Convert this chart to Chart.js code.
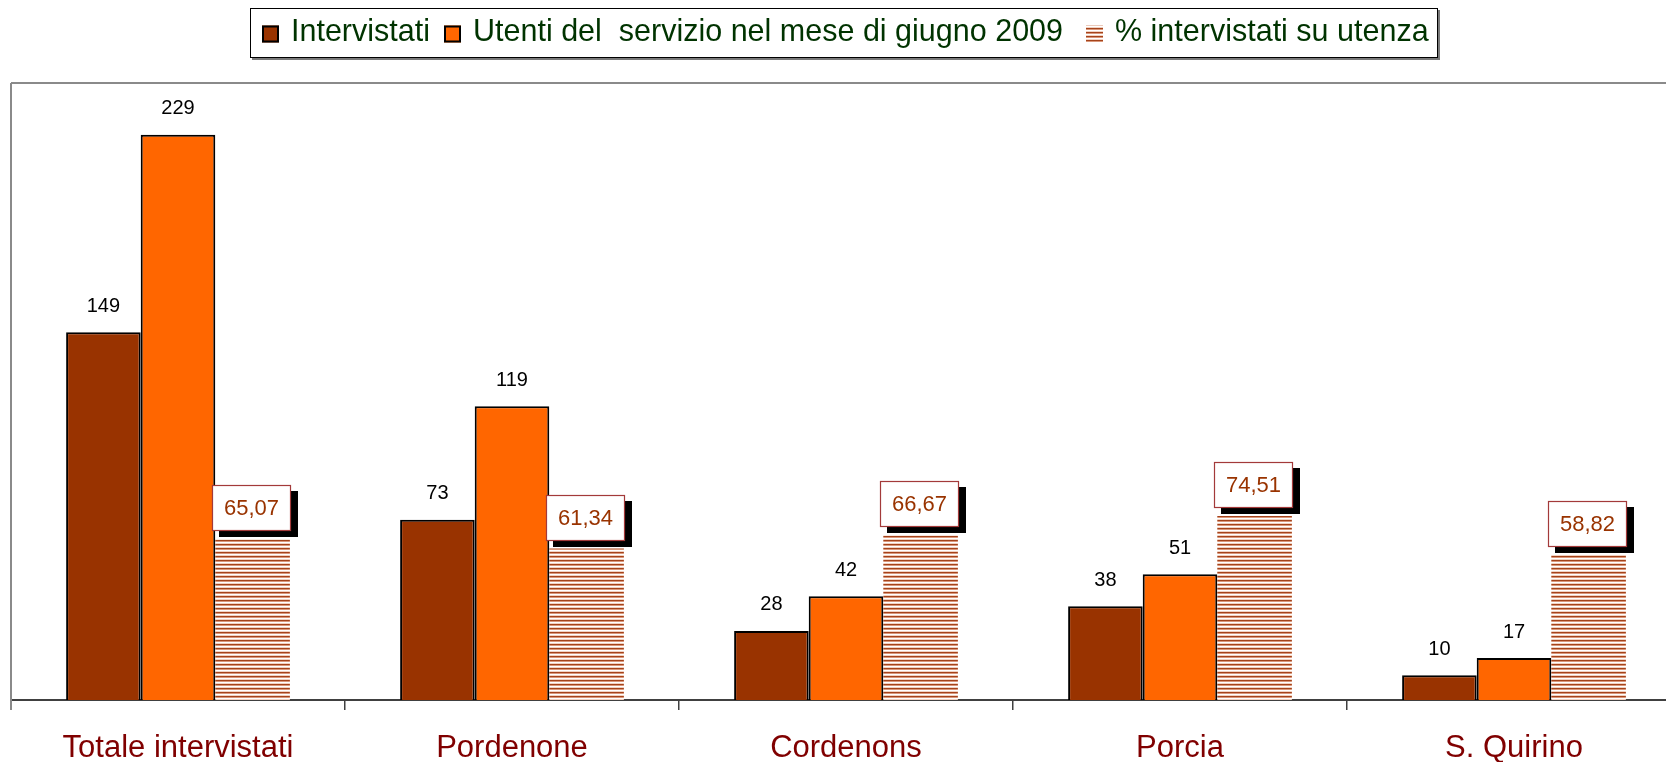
<!DOCTYPE html>
<html>
<head>
<meta charset="utf-8">
<script src="https://cdn.jsdelivr.net/npm/chart.js@4/dist/chart.umd.min.js"></script>
<style>
html,body{margin:0;padding:0;background:#fff;overflow:hidden;width:1666px;height:762px;}
canvas{display:block;}
</style>
</head>
<body>
<canvas id="c" width="1700" height="762"></canvas>
<script>
const categories = ['Totale intervistati', 'Pordenone', 'Cordenons', 'Porcia', 'S. Quirino'];
const intervistati = [149, 73, 28, 38, 10];
const utenti = [229, 119, 42, 51, 17];
const percentuale = [65.07, 61.34, 66.67, 74.51, 58.82];
const seriesNames = ['Intervistati', 'Utenti del  servizio nel mese di giugno 2009', '% intervistati su utenza'];

const FONT = '"Liberation Sans", Arial, sans-serif';

function makePattern() {
  const p = document.createElement('canvas');
  p.width = 4; p.height = 4;
  const g = p.getContext('2d');
  const rows = ['#a5431b', '#d9977a', '#ffffff', '#f1d2c2'];
  rows.forEach((c, i) => { g.fillStyle = c; g.fillRect(0, i, 4, 1); });
  return g.createPattern(p, 'repeat');
}
const stripe = makePattern();

const legendBoxX = [262, 444, 1086];

const framePlugin = {
  id: 'frame',
  afterDraw(chart) {
    const ctx = chart.ctx;
    const a = chart.chartArea;
    ctx.save();
    // top and left borders of plot area
    ctx.strokeStyle = '#8a8a8a';
    ctx.lineWidth = 2;
    ctx.beginPath();
    ctx.moveTo(a.left, a.top);
    ctx.lineTo(chart.width, a.top);
    ctx.moveTo(a.left, a.top);
    ctx.lineTo(a.left, a.bottom + 10);
    ctx.stroke();

    // legend
    const lx = 250, ly = 8, lw = 1188, lh = 50;
    ctx.fillStyle = '#7a7a7a';
    ctx.fillRect(lx + 2, ly + lh, lw, 2);
    ctx.fillRect(lx + lw, ly + 2, 2, lh);
    ctx.fillStyle = '#ffffff';
    ctx.fillRect(lx, ly, lw, lh);
    ctx.strokeStyle = '#000000';
    ctx.lineWidth = 1;
    ctx.strokeRect(lx + 0.5, ly + 0.5, lw - 1, lh - 1);

    ctx.font = '30.5px ' + FONT;
    ctx.textBaseline = 'middle';
    ctx.textAlign = 'left';
    const cy = 34;
    chart.data.datasets.forEach((ds, i) => {
      const x = legendBoxX[i];
      const bw = 17, bh = 17;
      if (i < 2) {
        ctx.fillStyle = ds.backgroundColor;
        ctx.fillRect(x, cy - bh / 2, bw, bh);
        ctx.strokeStyle = '#000';
        ctx.lineWidth = 2;
        ctx.strokeRect(x + 1, cy - bh / 2 + 1, bw - 2, bh - 2);
      } else {
        ctx.fillStyle = stripe;
        ctx.fillRect(x, cy - bh / 2, bw, bh);
      }
      ctx.fillStyle = '#003300';
      ctx.fillText(ds.label, x + bw + 12, cy - 1);
    });

    // data labels
    chart.data.datasets.forEach((ds, i) => {
      const meta = chart.getDatasetMeta(i);
      meta.data.forEach((bar, j) => {
        const v = ds.data[j];
        if (i < 2) {
          ctx.font = '20px ' + FONT;
          ctx.fillStyle = '#000';
          ctx.textAlign = 'center';
          ctx.textBaseline = 'middle';
          ctx.fillText(String(v), bar.x, bar.y - 26);
        } else {
          const txt = v.toFixed(2).replace('.', ',');
          const w = 79, h = 46;
          const bx = Math.round(bar.x - w / 2) - 1;
          const by = Math.round(bar.y - 8 - h);
          ctx.fillStyle = '#000';
          ctx.fillRect(bx + 7, by + 6, w, h);
          ctx.fillStyle = '#fff';
          ctx.fillRect(bx, by, w, h);
          ctx.strokeStyle = '#a33a3a';
          ctx.lineWidth = 1.2;
          ctx.strokeRect(bx + 0.5, by + 0.5, w - 1, h - 1);
          ctx.font = '22px ' + FONT;
          ctx.fillStyle = '#993300';
          ctx.textAlign = 'center';
          ctx.textBaseline = 'middle';
          ctx.fillText(txt, bx + w / 2, by + h / 2 + 1);
        }
      });
    });
    ctx.restore();
  }
};

new Chart(document.getElementById('c'), {
  type: 'bar',
  data: {
    labels: categories,
    datasets: [
      { label: seriesNames[0], data: intervistati, backgroundColor: '#993300', borderColor: '#000', borderWidth: 2, borderSkipped: 'bottom' },
      { label: seriesNames[1], data: utenti, backgroundColor: '#ff6600', borderColor: '#000', borderWidth: 2, borderSkipped: 'bottom' },
      { label: seriesNames[2], data: percentuale, backgroundColor: stripe, borderWidth: 0 }
    ]
  },
  options: {
    responsive: false,
    animation: false,
    categoryPercentage: 0.67,
    barPercentage: 1.0,
    layout: { padding: { left: 11, right: 19, top: 83, bottom: 0 } },
    plugins: { legend: { display: false }, tooltip: { enabled: false }, title: { display: false } },
    scales: {
      x: {
        offset: true,
        afterFit: (scale) => { scale.height = 62; },
        grid: { display: true, drawOnChartArea: false, drawTicks: true, tickLength: 10, color: '#404040', lineWidth: 1.5, offset: true },
        border: { display: true, color: '#404040', width: 2 },
        ticks: { color: '#800000', font: { family: FONT, size: 31 }, padding: 20, maxRotation: 0, autoSkip: false }
      },
      y: {
        display: false,
        min: 0,
        max: 250
      }
    }
  },
  plugins: [framePlugin]
});
</script>
</body>
</html>
